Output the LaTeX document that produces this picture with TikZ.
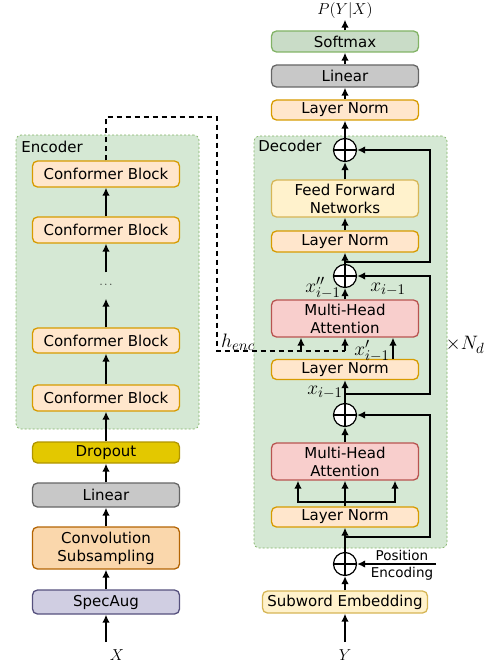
\documentclass[tikz,border=0pt]{standalone}
\usepackage{fontspec}
\setmainfont{DejaVu Sans}
\usetikzlibrary{arrows.meta}
\newcommand{\mlab}[1]{\scalebox{1.35}{$#1$}}
\newcommand{\mvar}[1]{\scalebox{1.1}{$#1$}}
\definecolor{normfill}{HTML}{FFE6CC}
\definecolor{normline}{HTML}{D79B00}
\definecolor{attfill}{HTML}{F8CECC}
\definecolor{attline}{HTML}{B85450}
\definecolor{fffill}{HTML}{FFF2CC}
\definecolor{ffline}{HTML}{D6B656}
\definecolor{linfill}{HTML}{C8C8C8}
\definecolor{linline}{HTML}{666666}
\definecolor{smfill}{HTML}{C9DCC7}
\definecolor{smline}{HTML}{82B366}
\definecolor{dropfill}{HTML}{E3C800}
\definecolor{dropline}{HTML}{B09500}
\definecolor{convfill}{HTML}{FAD7AC}
\definecolor{convline}{HTML}{B46504}
\definecolor{augfill}{HTML}{D0CEE2}
\definecolor{augline}{HTML}{56517E}
\definecolor{grpfill}{HTML}{D5E8D4}
\definecolor{grpline}{HTML}{82B366}
\begin{document}
\begin{tikzpicture}[x=1pt,y=-1pt,>={Latex[length=8pt,width=7.5pt]},font=\fontsize{15}{18}\selectfont]
        \tikzstyle{box}=[draw,rounded corners=5pt,line width=1.3pt,minimum width=147pt,inner sep=1pt,align=center]
        \tikzstyle{normbox}=[box,fill=normfill,draw=normline,minimum height=20pt]
        \tikzstyle{confbox}=[normbox,minimum height=26pt]
        \tikzstyle{attbox}=[box,fill=attfill,draw=attline,minimum height=37pt]
        \tikzstyle{ffbox}=[box,fill=fffill,draw=ffline,minimum height=37pt]
        \tikzstyle{linbox}=[box,fill=linfill,draw=linline,minimum height=22pt]
        \tikzstyle{adder}=[circle,draw,line width=1.2pt,fill=white,minimum size=23pt,inner sep=0pt,
          path picture={\draw[line width=1.2pt] (path picture bounding box.north) -- (path picture bounding box.south)
            (path picture bounding box.west) -- (path picture bounding box.east);}]
        \tikzstyle{grp}=[draw=grpline,fill=grpfill,rounded corners=5pt,dash pattern=on 2pt off 2pt,line width=0.7pt]
        \tikzstyle{conn}=[draw,->,line width=1.7pt]
        \tikzstyle{henc}=[draw,line width=1.6pt,dash pattern=on 5pt off 4pt]
        \tikzstyle{lbl}=[inner sep=1pt]
        \useasboundingbox (0,0) rectangle (494,666);
       \begin{scope}
         \node [grp,minimum width=183pt,minimum height=294pt] (encoder) at (107.5,282) {};
         \node [lbl] (enctitle) at (52,147) {Encoder};
         \node [confbox] (cb1) at (106,174) {Conformer Block};
         \node [confbox] (cb2) at (106,230) {Conformer Block};
         \node [lbl,minimum height=26pt,font=\fontsize{11}{13}\selectfont] (dots) at (106,285.5) {$\cdots$};
         \node [confbox,minimum height=25pt] (cb3) at (106,340.5) {Conformer Block};
         \node [confbox] (cb4) at (106,398) {Conformer Block};
         \node [box,fill=dropfill,draw=dropline,minimum height=21pt] (dropout) at (106,452.5) {Dropout};
         \node [linbox,minimum height=24pt] (linenc) at (106,495) {Linear};
         \node [box,fill=convfill,draw=convline,minimum height=42pt] (conv) at (106,548) {Convolution\\Subsampling};
         \node [box,fill=augfill,draw=augline,minimum height=24pt] (specaug) at (106,602) {SpecAug};
         \node [lbl] (xin) at (117,655) {\mvar{X}};
         \coordinate (xstart) at (106,642);

         \draw[conn] (xstart) -- (specaug);
         \draw[conn] (specaug) -- (conv);
         \draw[conn] (conv) -- (linenc);
         \draw[conn] (linenc) -- (dropout);
         \draw[conn] (dropout) -- (cb4);
         \draw[conn] (cb4) -- (cb3);
         \draw[conn] (cb3) -- (dots);
         \draw[conn] (dots) -- (cb2);
         \draw[conn] (cb2) -- (cb1);
        \end{scope}

       \begin{scope}
         \node [grp,minimum width=193pt,minimum height=412pt] (decoder) at (350.5,342) {};
         \node [lbl] (dectitle) at (290,146) {Decoder};
         \node [lbl] (pyx) at (345,10.5) {\mvar{P(Y|X)}};
         \node [box,fill=smfill,draw=smline,minimum height=21pt] (softmax) at (345,41.5) {Softmax};
         \node [linbox] (lindec) at (345,76) {Linear};
         \node [normbox] (lnout) at (345,110) {Layer Norm};
         \node [adder] (add1) at (345,150) {};
         \node [ffbox] (ffn) at (345,198.5) {Feed Forward\\Networks};
         \node [normbox,minimum height=21pt] (lnff) at (345,241.5) {Layer Norm};
         \node [adder] (add2) at (345,276) {};
         \node [attbox] (crossatt) at (345,318.5) {Multi-Head\\Attention};
         \node [normbox] (lncross) at (345,369.5) {Layer Norm};
         \node [adder] (add3) at (345,415) {};
         \node [attbox] (selfatt) at (345,461.5) {Multi-Head\\Attention};
         \node [normbox] (lnself) at (345,517) {Layer Norm};
         \node [adder] (add4) at (345,564) {};
         \node [box,fill=fffill,draw=ffline,minimum width=165pt,minimum height=22pt] (subword) at (345,602) {Subword Embedding};
         \node [lbl] (yin) at (345,655) {\mvar{Y}};
         \node [lbl,anchor=base,font=\fontsize{13.5}{16}\selectfont] (postext) at (402,560.5) {Position};
         \node [lbl,anchor=base,font=\fontsize{13.5}{16}\selectfont] (enctext) at (402,577) {Encoding};

         \node [lbl] (xpp) at (323,288) {\mlab{x''_{i-1}}};
         \node [lbl] (xres) at (388,289) {\mlab{x_{i-1}}};
         \node [lbl] (xp) at (372,351) {\mlab{x'_{i-1}}};
         \node [lbl] (xprev) at (325,392) {\mlab{x_{i-1}}};
         \node [lbl] (henclabel) at (238,342) {\mlab{h_{enc}}};
         \node [lbl] (nd) at (465,345) {\mlab{\times N_d}};

         \coordinate (ystart) at (345,642);
         \coordinate (posin) at (436,564);
         \coordinate (rail) at (430,0);
         \coordinate (j1) at (345,262);
         \coordinate (j2) at (345,394);
         \coordinate (j3) at (345,537);
         \coordinate (branch) at (345,502);
         \coordinate (qin) at ([xshift=-47pt]selfatt.south);
         \coordinate (vin) at ([xshift=50pt]selfatt.south);
         \coordinate (keyin) at ([xshift=-44pt]crossatt.south);
         \coordinate (hup) at (106,117);
         \coordinate (hdown) at (217,351);

         \draw[conn] (ystart) -- (subword);
         \draw[conn] (subword) -- (add4);
         \draw[conn] (posin) -- (add4);
         \draw[conn] (add4) -- (lnself);
         \draw[conn] (lnself) -- (selfatt);
         \draw[conn] (selfatt) -- (add3);
         \draw[conn] (add3) -- (lncross);
         \draw[conn] (crossatt) -- (add2);
         \draw[conn] (add2) -- (lnff);
         \draw[conn] (lnff) -- (ffn);
         \draw[conn] (ffn) -- (add1);
         \draw[conn] (add1) -- (lnout);
         \draw[conn] (lnout) -- (lindec);
         \draw[conn] (lindec) -- (softmax);
         \draw[conn] (softmax) -- (pyx);

         \draw[conn] (branch) -| (qin);
         \draw[conn] (branch) -| (vin);
         \draw[conn] ([xshift=48pt]lncross.north) -- ([xshift=48pt]crossatt.south);

         \draw[conn] (j1) -- (j1 -| rail) -- (add1 -| rail) -- (add1);
         \draw[conn] (j2) -- (j2 -| rail) -- (add2 -| rail) -- (add2);
         \draw[conn] (j3) -- (j3 -| rail) -- (add3 -| rail) -- (add3);

         \draw[henc] (cb1.north) -- (hup) -| (hdown) -- (hdown -| crossatt.south);
         \draw[conn] (keyin |- hdown) -- (keyin);
         \draw[conn] (crossatt.south |- hdown) -- (crossatt.south);
        \end{scope}
\end{tikzpicture}
\end{document}
